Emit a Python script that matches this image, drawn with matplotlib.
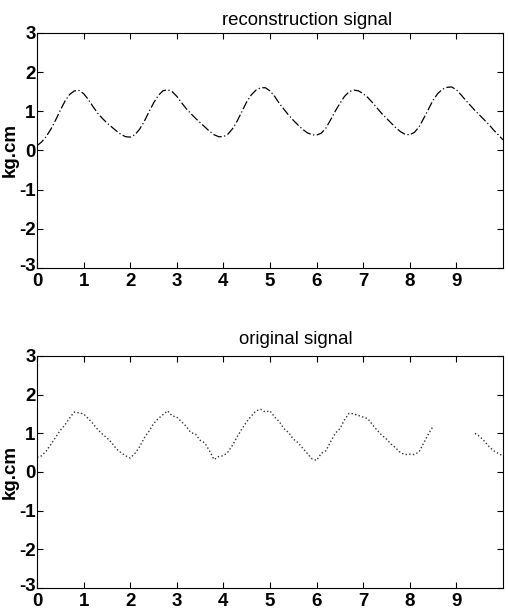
import numpy as np
import matplotlib.pyplot as plt
import matplotlib.transforms as mtrans

# time axis (s), sampled every 0.1
t = np.round(np.arange(0, 10.01, 0.1), 1)

# reconstruction signal (kg.cm)
recon = [0.12, 0.22, 0.36, 0.55, 0.78, 1.03, 1.26, 1.43, 1.52, 1.53,
         1.45, 1.30, 1.12, 0.95, 0.82, 0.70, 0.60, 0.50, 0.41, 0.35,
         0.34, 0.40, 0.54, 0.74, 0.98, 1.21, 1.40, 1.52, 1.55, 1.50,
         1.38, 1.22, 1.07, 0.94, 0.82, 0.71, 0.60, 0.49, 0.40, 0.35,
         0.35, 0.42, 0.56, 0.76, 1.00, 1.24, 1.42, 1.54, 1.60, 1.60,
         1.52, 1.38, 1.20, 1.05, 0.90, 0.77, 0.65, 0.54, 0.45, 0.40,
         0.39, 0.44, 0.57, 0.78, 1.00, 1.20, 1.38, 1.50, 1.54, 1.52,
         1.45, 1.35, 1.22, 1.08, 0.94, 0.82, 0.70, 0.58, 0.48, 0.41,
         0.40, 0.46, 0.60, 0.82, 1.05, 1.28, 1.45, 1.56, 1.61, 1.62,
         1.55, 1.42, 1.28, 1.15, 1.02, 0.90, 0.78, 0.66, 0.52, 0.40,
         0.27]

# original (measured) signal, lower panel; nan where nothing is visible
orig = [0.38, 0.42, 0.55, 0.72, 0.90, 1.08, 1.22, 1.40, 1.55, 1.53,
        1.50, 1.38, 1.25, 1.10, 0.98, 0.88, 0.76, 0.60, 0.50, 0.42,
        0.36, 0.48, 0.65, 0.88, 1.05, 1.25, 1.38, 1.48, 1.58, 1.45,
        1.42, 1.30, 1.18, 1.02, 0.98, 0.82, 0.75, 0.55, 0.32, 0.40,
        0.42, 0.52, 0.70, 0.92, 1.12, 1.30, 1.45, 1.58, 1.62, 1.55,
        1.58, 1.42, 1.30, 1.12, 1.02, 0.85, 0.76, 0.62, 0.48, 0.34,
        0.30, 0.48, 0.55, 0.78, 1.00, 1.12, 1.35, 1.52, 1.50, 1.46,
        1.42, 1.38, 1.22, 1.08, 0.95, 0.85, 0.72, 0.62, 0.50, 0.45,
        0.46, 0.45, 0.52, 0.75, 0.98, 1.18, np.nan, np.nan, np.nan, np.nan,
        np.nan, np.nan, np.nan, np.nan, 1.00, 0.92, 0.80, 0.66, 0.55, 0.48,
        0.42]

xticks = list(range(0, 10))
yticks = [-3, -2, -1, 0, 1, 2, 3]

plt.rcParams['font.family'] = ['Liberation Sans', 'DejaVu Sans']
plt.rcParams['axes.unicode_minus'] = False

fig = plt.figure(figsize=(5.08, 6.09), dpi=100)
ax1 = fig.add_axes([0.073, 0.56, 0.917, 0.386])
ax2 = fig.add_axes([0.073, 0.0345, 0.917, 0.381])

ax1.plot(t, recon, color='black', linewidth=0.9, dashes=(7, 2, 1, 2))
ax2.plot(t, orig, color='#333333', linewidth=1.0, linestyle=':')

# nudge the "-3" label up a little so it does not sit on the x "0"
lift = mtrans.ScaledTranslation(0, 2.5 / 72, fig.dpi_scale_trans)

for ax, title, tx, ty in [(ax1, 'reconstruction signal', 0.58, 1.034),
                          (ax2, 'original signal', 0.555, 1.052)]:
    ax.set_xlim(0, 10)
    ax.set_ylim(-3, 3)
    ax.set_xticks(xticks)
    ax.set_yticks(yticks)
    ax.tick_params(direction='in', length=4, width=0.8, top=True, right=True,
                   labelsize=13.5)
    ax.tick_params(axis='y', pad=1)
    ax.tick_params(axis='x', pad=3.5)
    for lab in ax.get_xticklabels() + ax.get_yticklabels():
        lab.set_fontweight('bold')
    low = ax.yaxis.get_major_ticks()[0].label1
    low.set_transform(low.get_transform() + lift)
    for sp in ax.spines.values():
        sp.set_linewidth(0.8)
    ax.set_ylabel('kg.cm', fontsize=13.5, fontweight='bold', labelpad=0)
    ax.text(tx, ty, title, transform=ax.transAxes, ha='center', va='baseline',
            fontsize=13.4)

fig.savefig('out.png', dpi=100)
